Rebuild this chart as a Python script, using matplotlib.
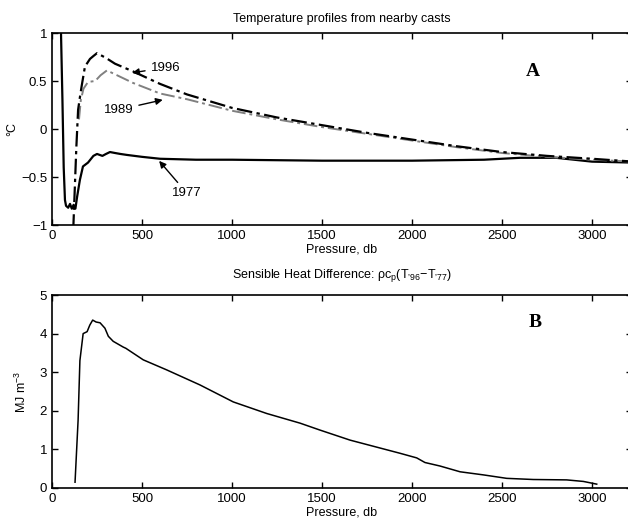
import matplotlib
matplotlib.use("Agg")
import matplotlib.pyplot as plt

plt.rcParams['font.family'] = ['Liberation Sans', 'DejaVu Sans']
plt.rcParams['mathtext.fontset'] = 'custom'
plt.rcParams['mathtext.rm'] = 'Liberation Sans'
plt.rcParams['mathtext.it'] = 'Liberation Sans'
plt.rcParams['mathtext.default'] = 'regular'

# panel A: temperature profiles
p77 = [40, 50, 58, 65, 72, 78, 90, 100, 110, 120, 130, 140, 155, 172, 200, 230, 250, 280,
       300, 322, 350, 380, 416, 500, 600, 800, 1000, 1500, 2000, 2400, 2600, 2800, 3000, 3230]
t77 = [1.4, 1.0, 0.3, -0.4, -0.74, -0.8, -0.82, -0.78, -0.83, -0.79, -0.83, -0.7, -0.53,
       -0.39, -0.35, -0.28, -0.26, -0.28, -0.26, -0.24, -0.25, -0.26, -0.27, -0.29, -0.31,
       -0.32, -0.32, -0.33, -0.33, -0.32, -0.30, -0.30, -0.34, -0.35]

p96 = [118, 125, 135, 145, 155, 165, 183, 211, 230, 250, 300, 350, 450, 600, 750, 1000,
       1250, 1500, 1750, 2000, 2250, 2500, 2750, 3000, 3230]
t96 = [-1.05, -0.7, -0.2, 0.2, 0.33, 0.45, 0.65, 0.73, 0.76, 0.79, 0.74, 0.68, 0.6, 0.47,
       0.36, 0.22, 0.12, 0.04, -0.04, -0.11, -0.18, -0.24, -0.28, -0.31, -0.34]

p89 = [150, 160, 175, 200, 240, 270, 305, 350, 450, 600, 750, 1000, 1250, 1500, 1750,
       2000, 2250, 2500, 2750, 3000, 3230]
t89 = [0.1, 0.3, 0.42, 0.49, 0.5, 0.56, 0.61, 0.57, 0.48, 0.37, 0.31, 0.19, 0.1, 0.02,
       -0.05, -0.12, -0.19, -0.25, -0.29, -0.32, -0.34]

# panel B: sensible heat difference
pq = [128, 145, 155, 173, 195, 210, 226, 245, 267, 294, 313, 340, 396, 410, 507, 637, 822,
      1007, 1193, 1378, 1489, 1656, 1933, 2026, 2072, 2155, 2267, 2396, 2526, 2674, 2859,
      2952, 3026]
q = [0.15, 1.76, 3.3, 4.0, 4.05, 4.22, 4.35, 4.3, 4.28, 4.14, 3.93, 3.8, 3.65, 3.62, 3.32,
     3.06, 2.67, 2.23, 1.93, 1.68, 1.5, 1.24, 0.9, 0.78, 0.66, 0.57, 0.42, 0.34, 0.25,
     0.22, 0.21, 0.17, 0.1]

xticks = [0, 500, 1000, 1500, 2000, 2500, 3000]

fig = plt.figure(figsize=(6.28, 5.27), dpi=100)
W, H = 628, 527
axA = fig.add_axes([52 / W, 1 - 225 / H, 580 / W, 192 / H])
axB = fig.add_axes([52 / W, 1 - 488 / H, 580 / W, 193 / H])

dashdot = (0, (7, 2, 1.5, 2))
axA.plot(p77, t77, color='black', lw=1.6)
axA.plot(p89, t89, color='#808080', lw=1.4, linestyle=dashdot)
axA.plot(p96, t96, color='black', lw=1.6, linestyle=dashdot)
axA.set_ylim(-1, 1)
axA.set_yticks([-1, -0.5, 0, 0.5, 1])
axA.set_yticklabels(['\u22121', '\u22120.5', '0', '0.5', '1'])
axA.set_title('Temperature profiles from nearby casts', fontsize=9, pad=8)
axA.set_ylabel('°C', fontsize=9, labelpad=2)
axA.text(2672, 0.6, 'A', family='Liberation Serif', weight='bold', fontsize=14,
         ha='center', va='center')
arrow = dict(arrowstyle='-|>', color='black', lw=1, mutation_scale=10)
axA.annotate('1996', xy=(430, 0.58), xytext=(630, 0.64), fontsize=9.5,
             ha='center', va='center', arrowprops=arrow)
axA.annotate('1989', xy=(630, 0.31), xytext=(370, 0.2), fontsize=9.5,
             ha='center', va='center', arrowprops=arrow)
axA.annotate('1977', xy=(585, -0.31), xytext=(750, -0.67), fontsize=9.5,
             ha='center', va='center', arrowprops=arrow)

axB.plot(pq, q, color='black', lw=1.1)
axB.set_ylim(0, 5)
axB.set_yticks([0, 1, 2, 3, 4, 5])
axB.set_title(r'Sensible Heat Difference: ρc$_p$(T$_{’96}$−T$_{’77}$)', fontsize=9, pad=12)
axB.set_ylabel(r'MJ m$^{-3}$', fontsize=9, labelpad=8)
axB.text(2683, 4.3, 'B', family='Liberation Serif', weight='bold', fontsize=14,
         ha='center', va='center')

for ax in (axA, axB):
    ax.set_xlim(0, 3222)
    ax.set_xticks(xticks)
    ax.set_xlabel('Pressure, db', fontsize=9, labelpad=1)
    ax.tick_params(direction='in', top=True, right=True, labelsize=9.5, length=4, width=1)
    for s in ax.spines.values():
        s.set_linewidth(1.2)

fig.savefig('out.png', dpi=100)
